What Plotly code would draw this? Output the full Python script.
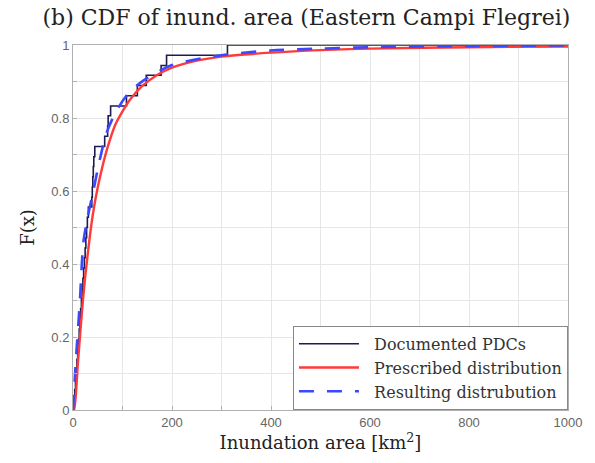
import plotly.graph_objects as go

# Documented PDCs: empirical CDF step positions (x, F)
doc_x = [0, 2, 3.5, 5, 6.5, 8, 9.5, 11, 12.5, 14, 15.5, 17, 18.5, 20, 21.5, 23, 24.5, 26, 27.5, 29, 31,
         38, 39, 40, 41, 42, 44, 64, 70, 71, 76, 108, 130, 148, 178, 189, 312, 1000]
doc_F = [0.0, 0.028, 0.056, 0.083, 0.111, 0.139, 0.167, 0.194, 0.222, 0.25, 0.278, 0.306, 0.333, 0.361,
         0.389, 0.417, 0.444, 0.472, 0.5, 0.528, 0.556, 0.583, 0.611, 0.639, 0.667, 0.694, 0.722, 0.75,
         0.778, 0.806, 0.833, 0.861, 0.889, 0.917, 0.944, 0.972, 1.0, 1.0]

# Prescribed distribution (smooth CDF)
pre_x = [0, 2, 10, 20, 30, 40, 50, 60, 70, 85, 100, 115, 140, 170, 200, 250, 300, 400, 500, 600, 800, 1000]
pre_F = [0, 0, 0.13, 0.30, 0.43, 0.535, 0.61, 0.67, 0.72, 0.78, 0.818, 0.85, 0.888, 0.918, 0.938,
         0.957, 0.968, 0.979, 0.986, 0.99, 0.994, 0.996]

# Resulting distribution (dashed)
res_x = [0, 6, 14, 21, 30, 41, 54, 68, 88, 112, 145, 200, 300, 400, 500, 600, 800, 1000]
res_F = [0, 0.14, 0.30, 0.46, 0.53, 0.60, 0.685, 0.76, 0.82, 0.868, 0.905, 0.945, 0.972, 0.985,
         0.99, 0.994, 0.997, 0.999]

x_ticks = [0, 200, 400, 600, 800, 1000]
y_ticks = [0, 0.2, 0.4, 0.6, 0.8, 1]
y_labels = ["0", "0.2", "0.4", "0.6", "0.8", "1"]

series_names = ["Documented PDCs", "Prescribed distribution", "Resulting distrubution"]

serif = "DejaVu Serif"
sans = "Liberation Sans"
pad = "\u00a0\u00a0"

fig = go.Figure()
fig.add_trace(go.Scatter(x=doc_x, y=doc_F, mode="lines", line_shape="hv",
                         line=dict(color="#1c1c50", width=1.6), name=pad + series_names[0]))
fig.add_trace(go.Scatter(x=pre_x, y=pre_F, mode="lines", line_shape="spline",
                         line=dict(color="#ff3a3a", width=2.4, smoothing=0.8),
                         name=pad + series_names[1]))
fig.add_trace(go.Scatter(x=res_x, y=res_F, mode="lines", line_shape="spline",
                         line=dict(color="#3a48ff", width=2.6, dash="15px,13px", smoothing=0.8),
                         name=pad + series_names[2]))

axis_common = dict(showline=True, linecolor="#b0b0b0", linewidth=1, mirror=True,
                   showgrid=True, gridcolor="#e6e6e6", gridwidth=1, zeroline=False,
                   ticks="inside", ticklen=4, tickcolor="#b0b0b0",
                   tickfont=dict(family=sans, size=13, color="#666666"))

fig.update_layout(
    width=595, height=463,
    margin=dict(l=73, r=27, t=45, b=53),
    paper_bgcolor="white", plot_bgcolor="white",
    title=dict(text="(b) CDF of inund. area (Eastern Campi Flegrei)", x=0.515, xanchor="center",
               y=0.962, yanchor="middle", font=dict(family=serif, size=22, color="#222222")),
    xaxis=dict(range=[0, 1000], tickvals=x_ticks, title=dict(text="Inundation area [km<sup>2</sup>]",
               font=dict(family=serif, size=18, color="#222222"), standoff=6),
               minor=dict(dtick=100, showgrid=True, gridcolor="#e6e6e6", ticks="inside",
                          ticklen=4, tickcolor="#b0b0b0"),
               **axis_common),
    yaxis=dict(range=[0, 1], tickvals=y_ticks, ticktext=y_labels,
               title=dict(text="F(x)", font=dict(family=serif, size=18, color="#222222"), standoff=12),
               minor=dict(dtick=0.1, showgrid=True, gridcolor="#e6e6e6", ticks="inside",
                          ticklen=4, tickcolor="#b0b0b0"),
               **axis_common),
    legend=dict(x=0.9999, xanchor="right", y=0.0005, yanchor="bottom",
                bgcolor="white", bordercolor="#888888", borderwidth=1,
                font=dict(family=serif, size=16, color="#333333"),
                itemwidth=60, tracegroupgap=0),
    showlegend=True,
)

fig.write_html("out.html")
